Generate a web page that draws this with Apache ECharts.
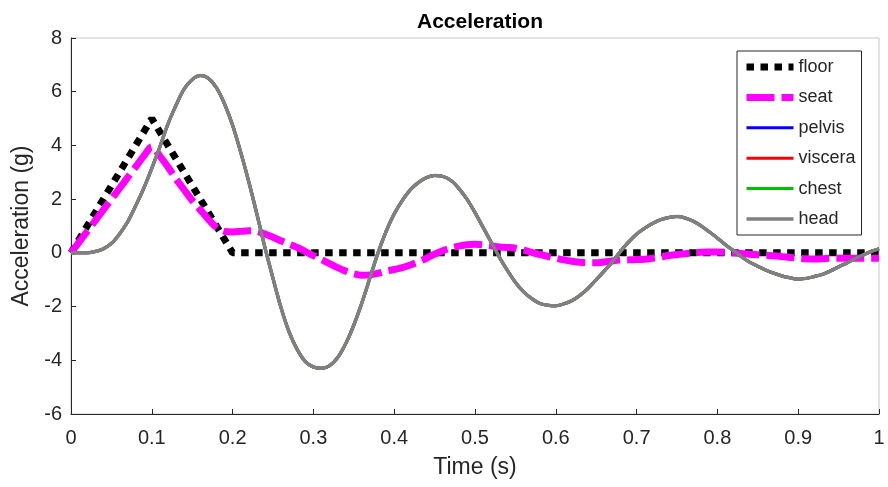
<!DOCTYPE html>
<html>
<head>
<meta charset="utf-8">
<script src="https://cdn.jsdelivr.net/npm/echarts@6/dist/echarts.min.js"></script>
<style>html,body{margin:0;padding:0;background:#fff}#c{width:888px;height:487px}</style>
</head>
<body>
<div id="c"></div>
<script>
// Time samples (s)
const time = [0,0.01,0.02,0.03,0.04,0.05,0.06,0.07,0.08,0.09,0.1,0.11,0.12,0.13,0.14,0.15,0.16,0.17,0.18,0.19,0.2,0.21,0.22,0.23,0.24,0.25,0.26,0.27,0.28,0.29,0.3,0.31,0.32,0.33,0.34,0.35,0.36,0.37,0.38,0.39,0.4,0.41,0.42,0.43,0.44,0.45,0.46,0.47,0.48,0.49,0.5,0.51,0.52,0.53,0.54,0.55,0.56,0.57,0.58,0.59,0.6,0.61,0.62,0.63,0.64,0.65,0.66,0.67,0.68,0.69,0.7,0.71,0.72,0.73,0.74,0.75,0.76,0.77,0.78,0.79,0.8,0.81,0.82,0.83,0.84,0.85,0.86,0.87,0.88,0.89,0.9,0.91,0.92,0.93,0.94,0.95,0.96,0.97,0.98,0.99,1];

// Floor acceleration (g): triangular pulse
const floorTime = [0, 0.1, 0.2, 1];
const floor = [0, 5, 0, 0];

// Seat acceleration (g)
const seat = [0,0.4,0.8,1.2,1.6,2.0,2.4,2.8,3.2,3.6,3.95,3.6,3.2,2.75,2.35,1.95,1.6,1.25,0.95,0.8,0.78,0.8,0.82,0.8,0.7,0.58,0.45,0.32,0.2,0.05,-0.1,-0.25,-0.4,-0.55,-0.68,-0.78,-0.83,-0.82,-0.76,-0.68,-0.62,-0.55,-0.45,-0.33,-0.2,-0.05,0.08,0.18,0.25,0.3,0.32,0.3,0.26,0.22,0.2,0.17,0.1,0.02,-0.06,-0.13,-0.2,-0.26,-0.31,-0.35,-0.37,-0.37,-0.34,-0.3,-0.27,-0.26,-0.25,-0.24,-0.2,-0.15,-0.1,-0.06,-0.03,0.0,0.02,0.03,0.03,0.02,0.0,-0.02,-0.05,-0.07,-0.09,-0.11,-0.14,-0.17,-0.2,-0.22,-0.23,-0.22,-0.2,-0.2,-0.2,-0.2,-0.2,-0.2,-0.2];

// Head acceleration (g)
const head = [0,0,0,0.05,0.15,0.35,0.7,1.15,1.75,2.4,3.15,3.95,4.8,5.5,6.1,6.45,6.6,6.5,6.15,5.55,4.75,3.75,2.65,1.45,0.2,-0.95,-2.05,-2.95,-3.6,-4.05,-4.25,-4.3,-4.2,-3.9,-3.38,-2.69,-1.86,-0.93,0.0,0.8,1.45,1.95,2.35,2.62,2.8,2.88,2.85,2.7,2.4,2.0,1.5,0.95,0.4,-0.15,-0.65,-1.1,-1.45,-1.7,-1.88,-1.95,-1.97,-1.9,-1.78,-1.58,-1.32,-1.0,-0.68,-0.33,0.05,0.4,0.7,0.92,1.1,1.24,1.32,1.35,1.3,1.18,1.0,0.78,0.55,0.3,0.08,-0.15,-0.35,-0.5,-0.64,-0.76,-0.86,-0.93,-0.98,-0.95,-0.88,-0.8,-0.67,-0.52,-0.38,-0.22,-0.08,0.05,0.15];

// Pelvis, viscera and chest lie under the head curve in the picture
const pelvis = head.slice();
const viscera = head.slice();
const chest = head.slice();

const xTicks = ['0','0.1','0.2','0.3','0.4','0.5','0.6','0.7','0.8','0.9','1'];

const pairs = (xs, ys) => xs.map((x, i) => [x, ys[i]]);
const FONT = "'Liberation Sans', Arial, Helvetica, sans-serif";
const AX = '#262626';

const chart = echarts.init(document.getElementById('c'), null, {renderer: 'canvas'});
chart.setOption({
  animation: false,
  backgroundColor: '#fff',
  title: {
    text: 'Acceleration', left: 475, textAlign: 'center', top: 7,
    textStyle: {fontFamily: FONT, fontSize: 21, fontWeight: 'bold', color: '#000'}
  },
  grid: {left: 71, right: 9, top: 38, bottom: 73, show: true, borderColor: '#c8c8c8', borderWidth: 1},
  legend: {
    orient: 'vertical', left: 737, top: 51,
    padding: [7, 6, 7, 6], itemWidth: 47, itemHeight: 14, itemGap: 12.4,
    borderColor: AX, borderWidth: 1, backgroundColor: '#fff',
    itemStyle: {opacity: 0},
    lineStyle: {width: 'inherit'},
    textStyle: {fontFamily: FONT, fontSize: 18, color: AX},
    data: ['floor','seat','pelvis','viscera','chest','head']
  },
  xAxis: {
    type: 'value', min: 0, max: 1, interval: 0.1,
    name: 'Time (s)', nameLocation: 'middle', nameGap: 42,
    nameTextStyle: {fontFamily: FONT, fontSize: 23, color: AX},
    axisLine: {show: true, onZero: false, lineStyle: {color: AX, width: 1}},
    axisTick: {show: true, inside: true, length: 5, lineStyle: {color: AX}},
    axisLabel: {fontFamily: FONT, fontSize: 20, color: AX, margin: 14,
      formatter: (v) => xTicks[Math.round(v * 10)]},
    splitLine: {show: false}
  },
  yAxis: {
    type: 'value', min: -6, max: 8, interval: 2,
    name: 'Acceleration (g)', nameLocation: 'middle', nameGap: 37,
    nameTextStyle: {fontFamily: FONT, fontSize: 23, color: AX},
    axisLine: {show: true, onZero: false, lineStyle: {color: AX, width: 1}},
    axisTick: {show: true, inside: true, length: 5, lineStyle: {color: AX}},
    axisLabel: {fontFamily: FONT, fontSize: 20, color: AX, margin: 9},
    splitLine: {show: false}
  },
  series: [
    {name: 'floor', type: 'line', symbol: 'none', data: pairs(floorTime, floor),
      lineStyle: {color: '#000', width: 7, type: [7.5, 6.5], cap: 'butt'}, itemStyle: {color: '#000'}},
    {name: 'seat', type: 'line', symbol: 'none', smooth: 0.3, data: pairs(time, seat),
      lineStyle: {color: '#ff00ff', width: 7, type: [28, 7], cap: 'butt'}, itemStyle: {color: '#ff00ff'}},
    {name: 'pelvis', type: 'line', symbol: 'none', smooth: 0.3, data: pairs(time, pelvis),
      lineStyle: {color: '#0000ff', width: 3}, itemStyle: {color: '#0000ff'}},
    {name: 'viscera', type: 'line', symbol: 'none', smooth: 0.3, data: pairs(time, viscera),
      lineStyle: {color: '#ff0000', width: 3}, itemStyle: {color: '#ff0000'}},
    {name: 'chest', type: 'line', symbol: 'none', smooth: 0.3, data: pairs(time, chest),
      lineStyle: {color: '#00c000', width: 3}, itemStyle: {color: '#00c000'}},
    {name: 'head', type: 'line', symbol: 'none', smooth: 0.3, data: pairs(time, head),
      lineStyle: {color: '#808080', width: 3.5}, itemStyle: {color: '#808080'}}
  ]
});
</script>
</body>
</html>
